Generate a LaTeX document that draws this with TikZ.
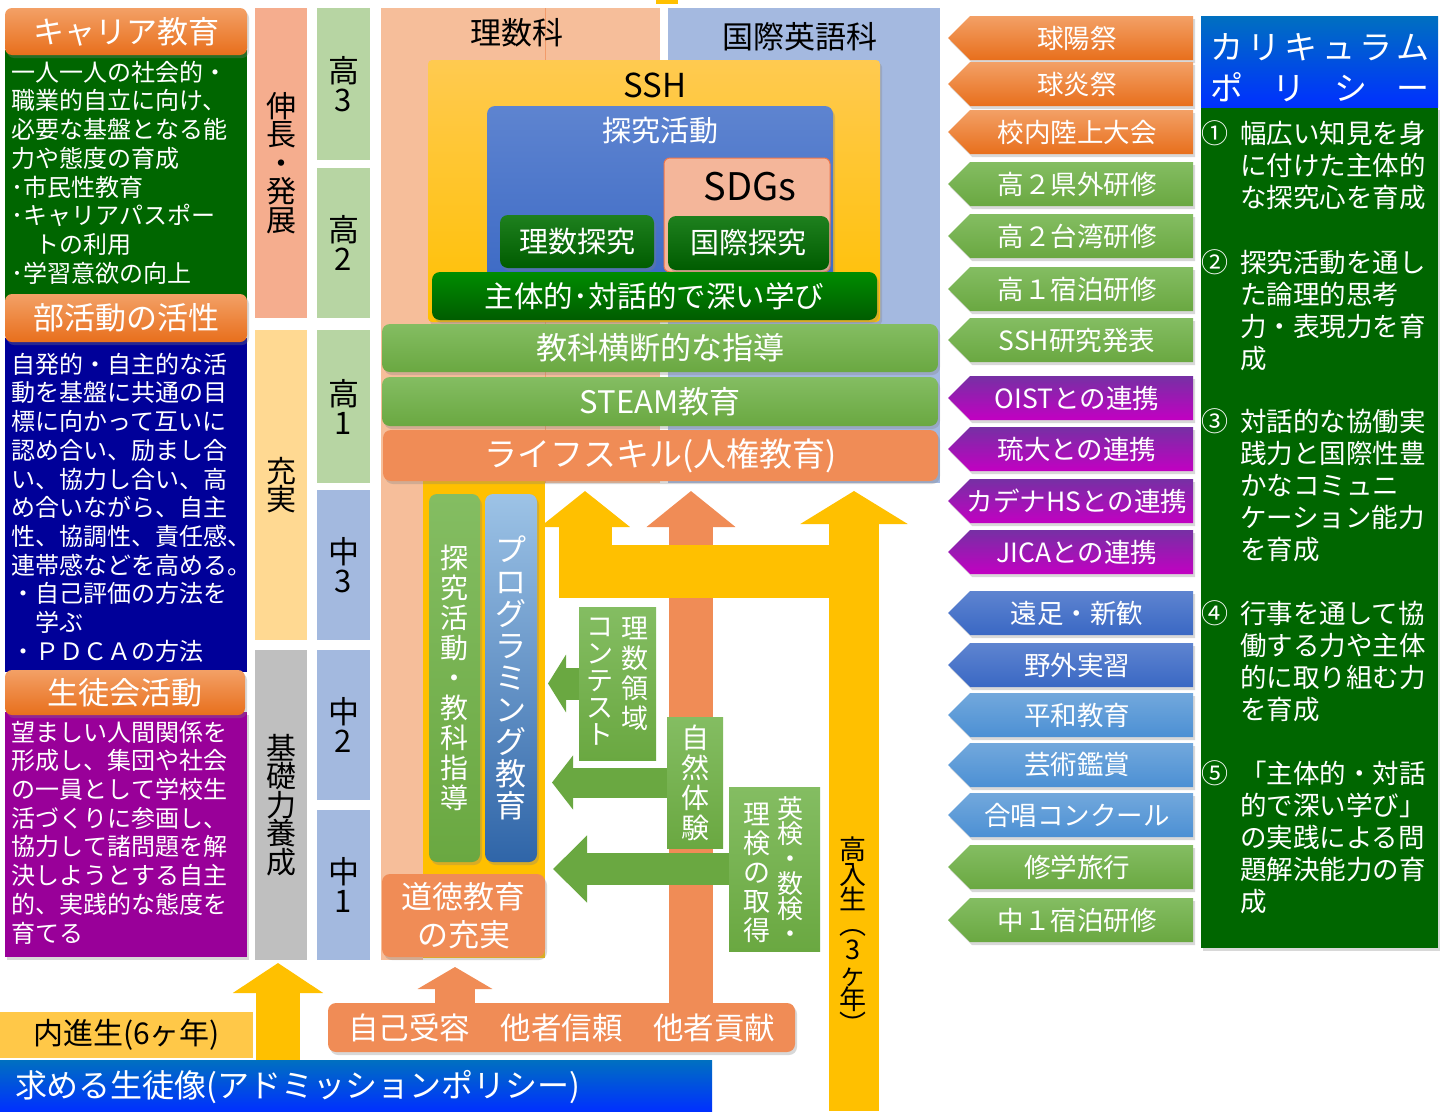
\documentclass[tikz,border=0pt]{standalone}
\usepackage{fontspec}
\setmainfont{Noto Sans CJK JP}
\usetikzlibrary{arrows.meta,shadows}

\definecolor{hdrT}{HTML}{F3A066}
\definecolor{hdrB}{HTML}{E86F1C}
\definecolor{dgreen}{HTML}{006600}
\definecolor{navy}{HTML}{000099}
\definecolor{purp}{HTML}{990099}
\definecolor{stgA}{HTML}{F5AD8E}
\definecolor{stgB}{HTML}{FFD992}
\definecolor{stgC}{HTML}{BFBFBF}
\definecolor{grdH}{HTML}{B7D5A3}
\definecolor{grdJ}{HTML}{A3B9DF}
\definecolor{peach}{HTML}{F6BE9A}
\definecolor{lblue}{HTML}{A4B9E0}
\definecolor{gold}{HTML}{FFC000}
\definecolor{goldT}{HTML}{FFCA50}
\definecolor{ora}{HTML}{F08C56}
\definecolor{lgreen}{HTML}{6AA841}
\definecolor{lgreenT}{HTML}{84BD62}
\definecolor{tqT}{HTML}{5E84D0}
\definecolor{tqB}{HTML}{3A68C4}
\definecolor{prgT}{HTML}{9DC3E6}
\definecolor{prgB}{HTML}{2F65A8}
\definecolor{kgT}{HTML}{1E801E}
\definecolor{kgB}{HTML}{005C00}
\definecolor{sdg}{HTML}{F4B69A}
\definecolor{polT}{HTML}{0070C0}
\definecolor{polM}{HTML}{00B0F0}
\definecolor{polB}{HTML}{0030FF}
\definecolor{naiY}{HTML}{FFC848}
\definecolor{tagPT}{HTML}{7630A4}
\definecolor{tagPB}{HTML}{C200C2}
\definecolor{tagLT}{HTML}{72A8DC}
\definecolor{tagLB}{HTML}{4C90D4}

\begin{document}
\lineskiplimit=-50pt
\begin{tikzpicture}
[x=1pt,y=-1pt,
 every node/.style={inner sep=0pt,outer sep=0pt},
 shdw/.style={drop shadow={opacity=.3,shadow xshift=2pt,shadow yshift=-3pt}},
 hdr/.style={rounded corners=7pt,top color=hdrT,bottom color=hdrB,text=white,font=\fontsize{31}{31}\selectfont,shdw},
 body/.style={anchor=north west,align=left,text=white,font=\fontsize{24}{28.7}\selectfont},
 stage/.style={text=black,align=center,font=\fontsize{30}{28.5}\selectfont},
 grade/.style={text=black,align=center,font=\fontsize{31}{29}\selectfont},
 bar/.style={rounded corners=8pt,text=white,font=\fontsize{30}{30}\selectfont,shdw},
 gbar/.style={bar,top color=lgreenT,bottom color=lgreen},
 kbox/.style={bar,top color=kgT,bottom color=kgB,font=\fontsize{29}{29}\selectfont},
 gbox/.style={top color=lgreenT,bottom color=lgreen},
 vtxt/.style={text=white,align=center,font=\fontsize{28}{30}\selectfont},
 lbl/.style={text=black,font=\fontsize{31}{31}\selectfont},
 tagtxt/.style={text=white,font=\fontsize{26.5}{26.5}\selectfont},
 tagO/.style={top color=hdrT,bottom color=hdrB},
 tagG/.style={top color=lgreenT,bottom color=lgreen},
 tagP/.style={top color=tagPT,bottom color=tagPB},
 tagB/.style={top color=tqT,bottom color=tqB},
 tagL/.style={top color=tagLT,bottom color=tagLB},
 pnum/.style={text=white,font=\fontsize{27}{27}\selectfont},
 ptxt/.style={anchor=north west,align=left,text=white,font=\fontsize{26.5}{32}\selectfont},
 polhead/.style={top color=polT,middle color=polM,bottom color=polB}]
\def\rbox#1#2#3#4#5#6#7{\node[#2,minimum width={(#5-#3)*1pt},minimum height={(#6-#4)*1pt}] (#1) at ({(#3+#5)/2},{(#4+#6)/2}) {#7};}
\fill[white] (0,0) rectangle (1440,1111);
\useasboundingbox (0,0) rectangle (1440,1111);

% left column
\rbox{careerbody}{fill=dgreen}{5}{50}{247}{300}{}
\rbox{clubbody}{fill=navy}{5}{338}{247}{672}{}
\rbox{councilbody}{fill=purp,shdw}{5}{712}{247}{957}{}
\rbox{career}{hdr}{5}{8}{247}{55}{キャリア教育}
\rbox{club}{hdr}{5}{294}{247}{342}{部活動の活性}
\rbox{council}{hdr}{5}{670}{245}{715}{生徒会活動}
\node[body] (careertxt) at (12,61) {一人一人の社会的・\\職業的自立に向け、\\必要な基盤となる能\\力や態度の育成\\･市民性教育\\･キャリアパスポー\\　トの利用\\･学習意欲の向上};
\node[body] (clubtxt) at (12,353) {自発的・自主的な活\\動を基盤に共通の目\\標に向かって互いに\\認め合い、励まし合\\い、協力し合い、高\\め合いながら、自主\\性、協調性、責任感、\\連帯感などを高める。\\・自己評価の方法を\\　学ぶ\\・ＰＤＣＡの方法};
\node[body] (counciltxt) at (12,721) {望ましい人間関係を\\形成し、集団や社会\\の一員として学校生\\活づくりに参画し、\\協力して諸問題を解\\決しようとする自主\\的、実践的な態度を\\育てる};

% stages and grades
\rbox{s1}{stage,fill=stgA}{255}{8}{307}{318}{伸\\長\\・\\発\\展}
\rbox{s2}{stage,fill=stgB}{255}{330}{307}{640}{充\\実}
\rbox{s3}{stage,fill=stgC}{255}{650}{307}{960}{基\\礎\\力\\養\\成}
\foreach \k/\n/\a/\b/\c [count=\i] in {高/3/8/160/grdH, 高/2/168/318/grdH, 高/1/330/483/grdH, 中/3/490/640/grdJ, 中/2/650/800/grdJ, 中/1/810/960/grdJ}
{
  \rbox{g\i}{grade,fill=\c}{317}{\a}{370}{\b}{\k\\\n}
}

% courses
\fill[gold] (656,0) rectangle (678,4);
\fill[peach] (381,8) rectangle (660,483);
\fill[peach] (381,483) rectangle (423,960);
\fill[lblue] (668,8) rectangle (940,483);
\draw[ora!70!peach,line width=0.8pt] (545,8) -- (545,483);
\fill[gold] (423,470) rectangle (545,958);
\node[lbl] (rsk) at (517,33) {理数科};
\node[lbl] (ieg) at (800,37) {国際英語科};

% SSH block
\rbox{ssh}{rounded corners=4pt,top color=goldT,bottom color=gold,shdw}{428}{60}{880}{322}{}
\node[lbl,font=\fontsize{33}{33}\selectfont] (sshlbl) at (655,85) {SSH};
\rbox{tq}{rounded corners=8pt,top color=tqT,bottom color=tqB,shdw}{487}{106}{833}{298}{}
\node[text=white,font=\fontsize{29}{29}\selectfont] (tqlbl) at (660,131) {探究活動};
\rbox{sdgs}{rounded corners=6pt,fill=sdg,draw=ora!85!red,line width=1pt}{664}{158}{830}{272}{}
\node[text=black,font=\fontsize{38}{38}\selectfont] (sdglbl) at (750,187) {SDGs};
\rbox{rq}{kbox}{500}{215}{654}{268}{理数探究}
\rbox{kq}{kbox}{668}{216}{829}{270}{国際探究}
\rbox{deep}{bar,top color=green!55!black,bottom color=kgB,font=\fontsize{29.5}{29.5}\selectfont}{432}{272}{877}{320}{主体的･対話的で深い学び}
\rbox{cross}{gbar,font=\fontsize{31}{31}\selectfont}{382}{324}{938}{372}{教科横断的な指導}
\rbox{steam}{gbar,font=\fontsize{31}{31}\selectfont}{382}{377}{938}{426}{STEAM教育}
\rbox{life}{bar,fill=ora,font=\fontsize{33}{33}\selectfont}{383}{430}{938}{481}{ライフスキル(人権教育)}

% lower column
\rbox{tqv}{gbar,vtxt}{429}{494}{480}{862}{探\\究\\活\\動\\・\\教\\科\\指\\導}
\rbox{prg}{bar,top color=prgT,bottom color=prgB,vtxt,font=\fontsize{31}{32}\selectfont}{485}{494}{537}{862}{プ\\ロ\\グ\\ラ\\ミ\\ン\\グ\\教\\育}
\rbox{moral}{bar,fill=ora,align=center,font=\fontsize{31}{38}\selectfont}{382}{874}{545}{957}{道徳教育\\の充実}

% bottom
\rbox{naishin}{fill=naiY,text=black,font=\fontsize{30}{30}\selectfont}{0}{1012}{253}{1058}{内進生(6ヶ年)}
\rbox{adm}{polhead}{0}{1060}{712}{1111}{}
\node[anchor=west,text=white,font=\fontsize{32}{32}\selectfont] (admtxt) at (15,1087) {求める生徒像(アドミッションポリシー)};
\rbox{self}{bar,fill=ora,font=\fontsize{30.5}{30.5}\selectfont}{328}{1003}{795}{1052}{自己受容　他者信頼　他者貢献}

% arrows
\coordinate (otip) at (691,491);
\coordinate (ktip) at (854,491);
\coordinate (kbot) at (854,1111);
\coordinate (ytip) at (585,491);
\coordinate (yband) at (854,571.5);
\coordinate (btip) at (278,963);
\coordinate (stip) at (455,967);
\draw[ora,line width=44pt,-{Triangle[length=36pt,width=87pt]}] (self.north -| otip) -- (otip);
\draw[gold,line width=50pt,-{Triangle[length=33pt,width=106pt]}] (kbot) -- (ktip);
\draw[gold,line width=53pt,line join=miter,-{Triangle[length=36pt,width=88pt]}] (yband) -- (yband -| ytip) -- (ytip);
\draw[gold,line width=44pt,-{Triangle[length=30pt,width=89pt]}] (adm.north -| btip) -- (btip);
\draw[ora,line width=40pt,-{Triangle[length=22pt,width=74pt]}] (self.north -| stip) -- (stip);
\node[text=black,align=center,font=\fontsize{27}{25}\selectfont] (koshin) at (853,936) {高\\入\\生\\︵\\3\\ヶ\\年\\︶};

\rbox{rs}{gbox}{579}{607}{656}{760}{}
\node[vtxt,font=\fontsize{27}{30}\selectfont] (rs1) at (635,674) {理\\数\\領\\域};
\node[vtxt,font=\fontsize{27}{27}\selectfont] (rs2) at (600,682) {コ\\ン\\テ\\ス\\ト};
\rbox{nat}{gbox,vtxt}{667}{717}{723}{848}{自\\然\\体\\験}
\rbox{ken}{gbox}{729}{787}{820}{951}{}
\node[vtxt,font=\fontsize{26}{25}\selectfont] (ken1) at (790,870) {英\\検\\・\\数\\検\\・};
\node[vtxt,font=\fontsize{27}{29}\selectfont] (ken2) at (757,873) {理\\検\\の\\取\\得};
\draw[lgreen,line width=32pt,-{Triangle[length=18pt,width=57pt]}] (rs.west) -- ++(-31,0);
\draw[lgreen,line width=30pt,-{Triangle[length=21pt,width=53pt]}] (nat.west) -- ++(-115,0);
\draw[lgreen,line width=32pt,-{Triangle[length=34pt,width=65pt]}] (ken.west) -- ++(-176,0);

% events
\foreach \t/\y/\s [count=\i] in {球陽祭/38/tagO, 球炎祭/84/tagO, 校内陸上大会/132/tagO, 高２県外研修/184/tagG, 高２台湾研修/236/tagG, 高１宿泊研修/289/tagG, SSH研究発表/340/tagG, OISTとの連携/398/tagP, 琉大との連携/449/tagP, カデナHSとの連携/501/tagP, JICAとの連携/552/tagP, 遠足・新歓/613/tagB, 野外実習/665/tagB, 平和教育/715/tagL, 芸術鑑賞/765/tagL, 合唱コンクール/815/tagL, 修学旅行/867/tagG, 中１宿泊研修/920/tagG}
{
  \path[\s,shdw] (948,\y) -- ({970},{\y-22}) -- ({1193},{\y-22}) -- ({1193},{\y+22}) -- ({970},{\y+22}) -- cycle;
  \node[tagtxt] (tag\i) at (1077,\y) {\t};
}

% curriculum policy
\rbox{polbody}{fill=dgreen,shdw}{1201}{107}{1438}{948}{}
\rbox{polhdr}{polhead}{1201}{16}{1438}{107}{}
\node[text=white,font=\fontsize{33}{33}\selectfont] (pol1) at (1320,47) {\makebox[220pt]{カ\hfill リ\hfill キ\hfill ュ\hfill ラ\hfill ム}};
\node[text=white,font=\fontsize{33}{33}\selectfont] (pol2) at (1320,87) {\makebox[220pt]{ポ\hfill リ\hfill シ\hfill ー}};
\node[pnum] (n1) at (1215,133) {①};
\node[ptxt] (p1) at (1240,121) {幅広い知見を身\\に付けた主体的\\な探究心を育成};
\node[pnum] (n2) at (1215,262) {②};
\node[ptxt] (p2) at (1240,250) {探究活動を通し\\た論理的思考\\力・表現力を育\\成};
\node[pnum] (n3) at (1215,421) {③};
\node[ptxt] (p3) at (1240,409) {対話的な協働実\\践力と国際性豊\\かなコミュニ\\ケーション能力\\を育成};
\node[pnum] (n4) at (1215,613) {④};
\node[ptxt] (p4) at (1240,601) {行事を通して協\\働する力や主体\\的に取り組む力\\を育成};
\node[pnum] (n5) at (1215,773) {⑤};
\node[ptxt] (p5) at (1240,761) {「主体的・対話\\的で深い学び」\\の実践による問\\題解決能力の育\\成};
\end{tikzpicture}
\end{document}
